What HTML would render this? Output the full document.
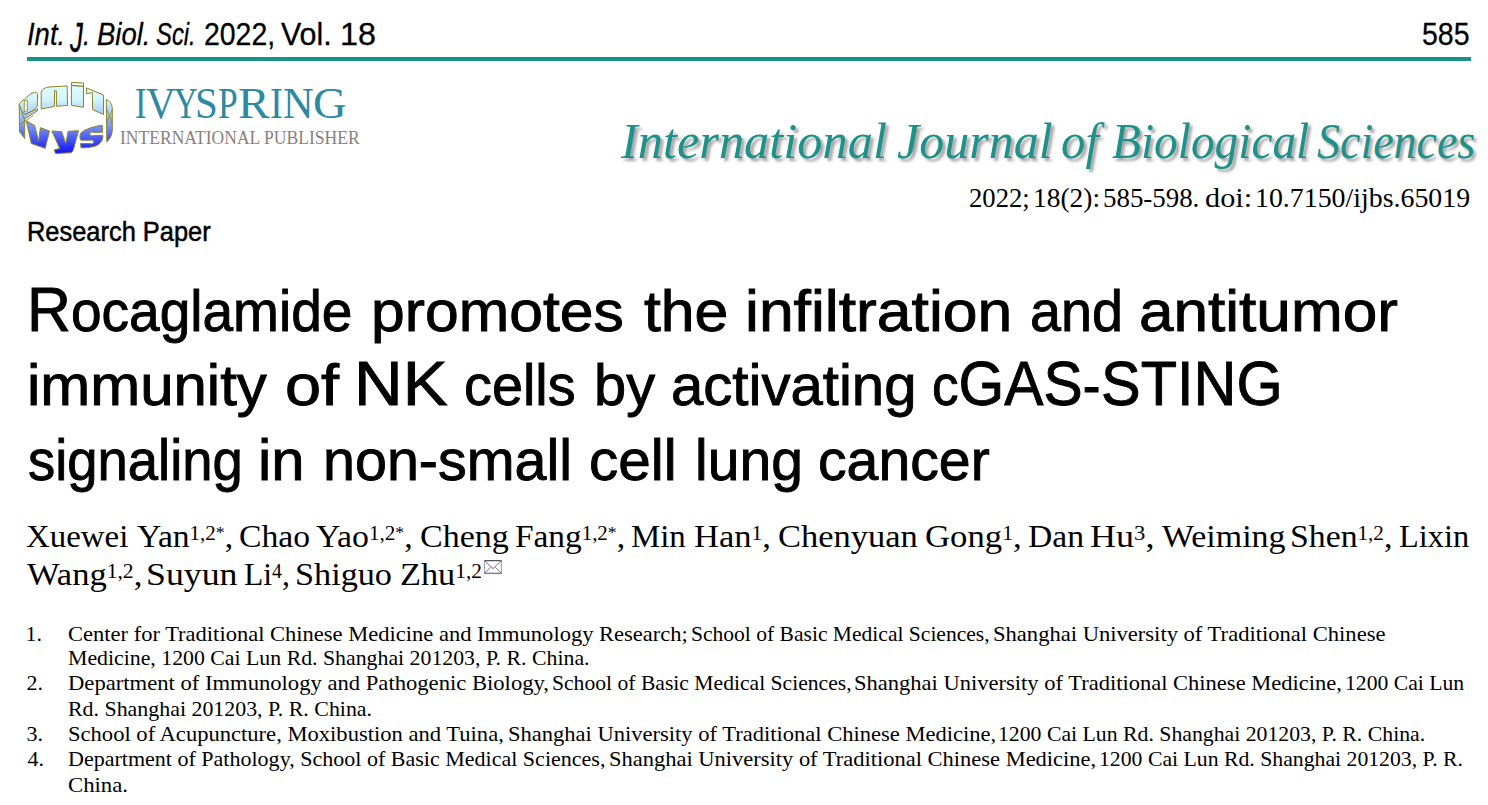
<!DOCTYPE html>
<html><head><meta charset="utf-8"><title>Int. J. Biol. Sci. 2022</title><style>html,body{margin:0;padding:0;background:#fff;width:1488px;height:805px;overflow:hidden}
.ln{position:absolute;white-space:nowrap;line-height:1;transform-origin:0 0}
sup{font-size:20px;vertical-align:7px;line-height:0}
.ti .c{font-size:63px}
.ti{-webkit-text-stroke:0.9px #000}
.rp{-webkit-text-stroke:0.5px #000}
.hd{-webkit-text-stroke:0.3px #000}
.as{font-size:17px;vertical-align:2px}
.jd{display:inline-block;transform:scaleY(1.3);transform-origin:50% 5px}

.rule{position:absolute;left:27px;top:57px;width:1444px;height:4px;background:#1a9189}
.jt{text-shadow:3px 3px 3px rgba(70,70,70,.5)}
</style></head>
<body>
<div class="rule"></div>
<svg style="position:absolute;left:0;top:0" width="130" height="170" viewBox="0 0 130 170"><defs><linearGradient id="lg" gradientUnits="userSpaceOnUse" x1="0" y1="82" x2="0" y2="154"><stop offset="0" stop-color="#e4ffff"/><stop offset="0.25" stop-color="#d2f4fb"/><stop offset="0.45" stop-color="#a8c8f6"/><stop offset="0.62" stop-color="#7890f6"/><stop offset="1" stop-color="#0c10f4"/></linearGradient></defs><g fill="url(#lg)" stroke="#8a8626" stroke-width="1" stroke-linejoin="round">
<path d="M19.4,104.2 C21,101.5 22.5,100 24.3,99.4 C28,96 31,93 34.5,92.4 C36,92 37.3,92.8 37.6,94.5 L37.3,106 C35.5,108.5 33.5,110 31.5,111.5 L24.9,114.5 L19.7,109 Z"/>
<path d="M24.3,100.6 L27.3,100.2 L27.3,111 L24.3,111.8 Z" fill="#fafbe6" stroke-width="0.8"/>
<path d="M19.7,109 L24.9,114.5 L37.6,108.8 L37.3,111 L24.9,118.7 L19.7,113.9 Z"/>
<path d="M41.2,92.1 C42,90 43.5,88.5 45.4,87.9 C48,87 51,86.7 54.5,86.7 L67.2,86 L67.5,105.4 L56.4,106.3 L56.4,90.9 L54.6,90.6 L54.3,106.5 L41.2,109 Z"/>
<path d="M71.4,82.4 L83.5,83 L83.5,107.2 L71.4,105.4 Z"/>
<path d="M71.4,85.4 L83.5,86.4" fill="none" stroke-width="1.4"/>
<path d="M86.6,87.9 L103.5,95.1 L103.5,114.5 L92.6,109.6 L92.3,92.5 L86.6,93.9 Z"/>
<path d="M106.3,99.4 C109.5,100.5 112.3,104 112.3,109 L112.3,130 C112.3,135.5 109.5,139.5 106.8,141.7 Z"/>
<path d="M106.5,109 C108,113 111,118 112.2,124 M112.2,110 C110.5,114 107.5,119 106.5,124" fill="none" stroke-width="0.8"/>
<path d="M19.2,104.5 L19.5,131.5 L24.7,138.6 L24.7,120.4 Z"/>
<path d="M19.3,125 L33.1,115.6 M24,119.5 L34.9,125.9" fill="none" stroke-width="0.9"/>
<path d="M26.5,121.7 L34.7,125.7 L38.6,141.2 L40.4,127.7 L49.5,131 L45.2,148.3 L31.3,143.5 Z"/>
<path d="M51.9,131 L61.6,131.6 L65.8,143.4 L68.2,131.3 L78.5,130.7 L73.6,149 C72.8,151.5 71.8,152.6 70.5,152.8 L55.5,153.5 L54.3,149.8 L59.7,148.6 Z"/>
<path d="M81,133 C85,129 95,126 102.3,125.3 L102.7,132.2 L94,132.4 C91.2,131.6 89.8,132.4 89.8,134 C89.8,135.6 91.2,136.2 94,135.6 L102.8,135.3 C103.5,140 100,145 94,146.5 C90,147.5 84,148 81,147.8 L80.5,143.4 L89.5,143.6 C92.6,144.3 93.8,143.4 93.8,142 C93.8,140.5 92.6,139.7 89.5,140.2 L81,140.2 C79.5,138.5 79.5,135 81,133 Z"/>
</g></svg>

<div class="ln hd" style="left:27.14px;top:18.00px;font-family:'Liberation Sans', sans-serif;font-size:32px;transform:scaleX(0.8575);"><i>Int.</i></div>
<div class="ln hd" style="left:69.70px;top:18.00px;font-family:'Liberation Sans', sans-serif;font-size:32px;transform:scaleX(0.8048);"><i><span class="jd">J</span>.</i></div>
<div class="ln hd" style="left:97.44px;top:18.00px;font-family:'Liberation Sans', sans-serif;font-size:32px;transform:scaleX(0.8596);"><i>Biol.</i></div>
<div class="ln hd" style="left:155.56px;top:18.00px;font-family:'Liberation Sans', sans-serif;font-size:32px;transform:scaleX(0.7449);"><i>Sci.</i></div>
<div class="ln hd" style="left:204.31px;top:18.00px;font-family:'Liberation Sans', sans-serif;font-size:32px;transform:scaleX(0.8883);">2022,</div>
<div class="ln hd" style="left:281.00px;top:18.00px;font-family:'Liberation Sans', sans-serif;font-size:32px;transform:scaleX(0.9510);">Vol.</div>
<div class="ln hd" style="left:339.98px;top:18.00px;font-family:'Liberation Sans', sans-serif;font-size:32px;transform:scaleX(1.0094);">18</div>
<div class="ln hd" style="left:1421.71px;top:18.00px;font-family:'Liberation Sans', sans-serif;font-size:32px;transform:scaleX(0.8902);">585</div>
<div class="ln ivy" style="left:134.64px;top:82.00px;font-family:'Liberation Serif', serif;font-size:44px;color:#2d88a4;transform:scaleX(0.7818);">I</div>
<div class="ln ivy" style="left:145.50px;top:82.00px;font-family:'Liberation Serif', serif;font-size:44px;color:#2d88a4;transform:scaleX(0.9323);">V</div>
<div class="ln ivy" style="left:173.50px;top:82.00px;font-family:'Liberation Serif', serif;font-size:44px;color:#2d88a4;transform:scaleX(0.7419);">Y</div>
<div class="ln ivy" style="left:195.21px;top:82.00px;font-family:'Liberation Serif', serif;font-size:44px;color:#2d88a4;transform:scaleX(0.9316);">S</div>
<div class="ln ivy" style="left:217.90px;top:82.00px;font-family:'Liberation Serif', serif;font-size:44px;color:#2d88a4;transform:scaleX(0.8045);">P</div>
<div class="ln ivy" style="left:238.32px;top:82.00px;font-family:'Liberation Serif', serif;font-size:44px;color:#2d88a4;transform:scaleX(1.0821);">R</div>
<div class="ln ivy" style="left:270.15px;top:82.00px;font-family:'Liberation Serif', serif;font-size:44px;color:#2d88a4;transform:scaleX(0.8727);">I</div>
<div class="ln ivy" style="left:282.84px;top:82.00px;font-family:'Liberation Serif', serif;font-size:44px;color:#2d88a4;transform:scaleX(0.9600);">N</div>
<div class="ln ivy" style="left:312.69px;top:82.00px;font-family:'Liberation Serif', serif;font-size:44px;color:#2d88a4;transform:scaleX(1.0571);">G</div>
<div class="ln intp" style="left:119.88px;top:128.00px;font-family:'Liberation Serif', serif;font-size:19px;color:#8a7f7a;transform:scaleX(0.9233);">INTERNATIONAL PUBLISHER</div>
<div class="ln jt" style="left:621.00px;top:115.80px;font-family:'Liberation Serif', serif;font-size:50px;color:#1d918a;transform:scaleX(1.0076);font-style:italic">International</div>
<div class="ln jt" style="left:897.00px;top:115.80px;font-family:'Liberation Serif', serif;font-size:50px;color:#1d918a;font-style:italic">Journal</div>
<div class="ln jt" style="left:1061.02px;top:115.80px;font-family:'Liberation Serif', serif;font-size:50px;color:#1d918a;transform:scaleX(0.9773);font-style:italic">of</div>
<div class="ln jt" style="left:1112.00px;top:115.80px;font-family:'Liberation Serif', serif;font-size:50px;color:#1d918a;transform:scaleX(0.9469);font-style:italic">Biological</div>
<div class="ln jt" style="left:1317.08px;top:115.80px;font-family:'Liberation Serif', serif;font-size:50px;color:#1d918a;transform:scaleX(0.9194);font-style:italic">Sciences</div>
<div class="ln" style="left:968.81px;top:185.20px;font-family:'Liberation Serif', serif;font-size:27px;transform:scaleX(0.9864);">2022;</div>
<div class="ln" style="left:1032.97px;top:185.20px;font-family:'Liberation Serif', serif;font-size:27px;transform:scaleX(1.0161);">18(2):</div>
<div class="ln" style="left:1103.01px;top:185.20px;font-family:'Liberation Serif', serif;font-size:27px;transform:scaleX(0.9957);">585-598.</div>
<div class="ln" style="left:1205.18px;top:185.20px;font-family:'Liberation Serif', serif;font-size:27px;transform:scaleX(1.1205);">doi:</div>
<div class="ln" style="left:1254.94px;top:185.20px;font-family:'Liberation Serif', serif;font-size:27px;transform:scaleX(1.0316);">10.7150/ijbs.65019</div>
<div class="ln rp" style="left:26.98px;top:218.00px;font-family:'Liberation Sans', sans-serif;font-size:28px;transform:scaleX(0.9080);">Research Paper</div>
<div class="ln ti" style="left:27.17px;top:277.50px;font-family:'Liberation Sans', sans-serif;font-size:57px;transform:scaleX(0.9655);"><span class="c">R</span>ocaglamide</div>
<div class="ln ti" style="left:371.21px;top:282.50px;font-family:'Liberation Sans', sans-serif;font-size:57px;transform:scaleX(1.0639);">promotes</div>
<div class="ln ti" style="left:643.80px;top:282.50px;font-family:'Liberation Sans', sans-serif;font-size:57px;transform:scaleX(1.0649);">the</div>
<div class="ln ti" style="left:744.91px;top:282.50px;font-family:'Liberation Sans', sans-serif;font-size:57px;transform:scaleX(1.0958);">infiltration</div>
<div class="ln ti" style="left:1029.54px;top:282.50px;font-family:'Liberation Sans', sans-serif;font-size:57px;transform:scaleX(0.9778);">and</div>
<div class="ln ti" style="left:1139.32px;top:282.50px;font-family:'Liberation Sans', sans-serif;font-size:57px;transform:scaleX(1.0894);">antitumor</div>
<div class="ln ti" style="left:27.05px;top:357.20px;font-family:'Liberation Sans', sans-serif;font-size:57px;transform:scaleX(1.0516);">immunity</div>
<div class="ln ti" style="left:285.22px;top:357.20px;font-family:'Liberation Sans', sans-serif;font-size:57px;transform:scaleX(1.1391);">of</div>
<div class="ln ti" style="left:353.95px;top:352.20px;font-family:'Liberation Sans', sans-serif;font-size:57px;transform:scaleX(1.0695);"><span class="c">NK</span></div>
<div class="ln ti" style="left:464.34px;top:357.20px;font-family:'Liberation Sans', sans-serif;font-size:57px;transform:scaleX(0.9782);">cells</div>
<div class="ln ti" style="left:593.66px;top:357.20px;font-family:'Liberation Sans', sans-serif;font-size:57px;transform:scaleX(1.0140);">by</div>
<div class="ln ti" style="left:671.36px;top:357.20px;font-family:'Liberation Sans', sans-serif;font-size:57px;transform:scaleX(1.0195);">activating</div>
<div class="ln ti" style="left:931.83px;top:352.20px;font-family:'Liberation Sans', sans-serif;font-size:57px;transform:scaleX(0.9330);">c<span class="c">GAS</span>-</div>
<div class="ln ti" style="left:1100.91px;top:352.20px;font-family:'Liberation Sans', sans-serif;font-size:57px;transform:scaleX(0.9435);"><span class="c">STING</span></div>
<div class="ln ti" style="left:28.45px;top:432.00px;font-family:'Liberation Sans', sans-serif;font-size:57px;transform:scaleX(0.9548);">signaling</div>
<div class="ln ti" style="left:257.96px;top:432.00px;font-family:'Liberation Sans', sans-serif;font-size:57px;transform:scaleX(1.0474);">in</div>
<div class="ln ti" style="left:322.88px;top:432.00px;font-family:'Liberation Sans', sans-serif;font-size:57px;transform:scaleX(1.0075);">non-small</div>
<div class="ln ti" style="left:589.45px;top:432.00px;font-family:'Liberation Sans', sans-serif;font-size:57px;transform:scaleX(1.0250);">cell</div>
<div class="ln ti" style="left:695.40px;top:432.00px;font-family:'Liberation Sans', sans-serif;font-size:57px;transform:scaleX(1.0010);">lung</div>
<div class="ln ti" style="left:817.89px;top:432.00px;font-family:'Liberation Sans', sans-serif;font-size:57px;transform:scaleX(1.0036);">cancer</div>
<div class="ln" style="left:26.47px;top:519.70px;font-family:'Liberation Serif', serif;font-size:32px;transform:scaleX(1.0276);">Xuewei</div>
<div class="ln" style="left:136.90px;top:519.70px;font-family:'Liberation Serif', serif;font-size:32px;transform:scaleX(1.0489);">Yan<sup>1,2<span class="as">*</span></sup>,</div>
<div class="ln" style="left:238.95px;top:519.70px;font-family:'Liberation Serif', serif;font-size:32px;transform:scaleX(1.0523);">Chao</div>
<div class="ln" style="left:315.90px;top:519.70px;font-family:'Liberation Serif', serif;font-size:32px;transform:scaleX(1.0567);">Yao<sup>1,2<span class="as">*</span></sup>,</div>
<div class="ln" style="left:419.84px;top:519.70px;font-family:'Liberation Serif', serif;font-size:32px;transform:scaleX(1.0622);">Cheng</div>
<div class="ln" style="left:515.06px;top:519.70px;font-family:'Liberation Serif', serif;font-size:32px;transform:scaleX(1.0427);">Fang<sup>1,2<span class="as">*</span></sup>,</div>
<div class="ln" style="left:631.27px;top:519.70px;font-family:'Liberation Serif', serif;font-size:32px;transform:scaleX(1.0269);">Min</div>
<div class="ln" style="left:693.82px;top:519.70px;font-family:'Liberation Serif', serif;font-size:32px;transform:scaleX(1.0794);">Han<sup>1</sup>,</div>
<div class="ln" style="left:778.42px;top:519.70px;font-family:'Liberation Serif', serif;font-size:32px;transform:scaleX(1.0773);">Chenyuan</div>
<div class="ln" style="left:925.02px;top:519.70px;font-family:'Liberation Serif', serif;font-size:32px;transform:scaleX(1.0849);">Gong<sup>1</sup>,</div>
<div class="ln" style="left:1027.55px;top:519.70px;font-family:'Liberation Serif', serif;font-size:32px;transform:scaleX(1.0519);">Dan</div>
<div class="ln" style="left:1089.67px;top:519.70px;font-family:'Liberation Serif', serif;font-size:32px;transform:scaleX(1.1278);">Hu<sup>3</sup>,</div>
<div class="ln" style="left:1161.70px;top:519.70px;font-family:'Liberation Serif', serif;font-size:32px;transform:scaleX(1.0603);">Weiming</div>
<div class="ln" style="left:1290.39px;top:519.70px;font-family:'Liberation Serif', serif;font-size:32px;transform:scaleX(1.0548);">Shen<sup>1,2</sup>,</div>
<div class="ln" style="left:1399.29px;top:519.70px;font-family:'Liberation Serif', serif;font-size:32px;transform:scaleX(1.0103);">Lixin</div>
<div class="ln" style="left:27.30px;top:558.20px;font-family:'Liberation Serif', serif;font-size:32px;transform:scaleX(1.0790);">Wang<sup>1,2</sup>,</div>
<div class="ln" style="left:145.76px;top:558.20px;font-family:'Liberation Serif', serif;font-size:32px;transform:scaleX(1.1177);">Suyun</div>
<div class="ln" style="left:244.01px;top:558.20px;font-family:'Liberation Serif', serif;font-size:32px;transform:scaleX(0.9886);">Li<sup>4</sup>,</div>
<div class="ln" style="left:295.06px;top:558.20px;font-family:'Liberation Serif', serif;font-size:32px;transform:scaleX(1.0693);">Shiguo</div>
<div class="ln" style="left:400.13px;top:558.20px;font-family:'Liberation Serif', serif;font-size:32px;transform:scaleX(1.0720);">Zhu<sup>1,2</sup></div>
<div class="ln af" style="left:68.18px;top:622.50px;font-family:'Liberation Serif', serif;font-size:22px;transform:scaleX(1.0237);">Center for Traditional Chinese Medicine and Immunology Research;</div>
<div class="ln af" style="left:691.12px;top:622.50px;font-family:'Liberation Serif', serif;font-size:22px;transform:scaleX(0.9795);">School of Basic Medical Sciences,</div>
<div class="ln af" style="left:993.07px;top:622.50px;font-family:'Liberation Serif', serif;font-size:22px;transform:scaleX(1.0260);">Shanghai University of Traditional Chinese</div>
<div class="ln af" style="left:25.50px;top:622.50px;font-family:'Liberation Serif', serif;font-size:22px;">1.</div>
<div class="ln af" style="left:67.81px;top:647.00px;font-family:'Liberation Serif', serif;font-size:22px;transform:scaleX(0.9912);">Medicine, 1200 Cai Lun Rd. Shanghai 201203, P. R. China.</div>
<div class="ln af" style="left:68.17px;top:672.00px;font-family:'Liberation Serif', serif;font-size:22px;transform:scaleX(1.0282);">Department of Immunology and Pathogenic Biology,</div>
<div class="ln af" style="left:551.92px;top:672.00px;font-family:'Liberation Serif', serif;font-size:22px;transform:scaleX(0.9828);">School of Basic Medical Sciences,</div>
<div class="ln af" style="left:854.48px;top:672.00px;font-family:'Liberation Serif', serif;font-size:22px;transform:scaleX(1.0238);">Shanghai University of Traditional Chinese Medicine,</div>
<div class="ln af" style="left:1345.33px;top:672.00px;font-family:'Liberation Serif', serif;font-size:22px;transform:scaleX(0.9840);">1200 Cai Lun</div>
<div class="ln af" style="left:26.50px;top:672.00px;font-family:'Liberation Serif', serif;font-size:22px;">2.</div>
<div class="ln af" style="left:67.80px;top:697.50px;font-family:'Liberation Serif', serif;font-size:22px;transform:scaleX(0.9950);">Rd. Shanghai 201203, P. R. China.</div>
<div class="ln af" style="left:68.17px;top:723.20px;font-family:'Liberation Serif', serif;font-size:22px;transform:scaleX(1.0261);">School of Acupuncture, Moxibustion and Tuina,</div>
<div class="ln af" style="left:507.68px;top:723.20px;font-family:'Liberation Serif', serif;font-size:22px;transform:scaleX(1.0243);">Shanghai University of Traditional Chinese Medicine,</div>
<div class="ln af" style="left:998.42px;top:723.20px;font-family:'Liberation Serif', serif;font-size:22px;transform:scaleX(0.9886);">1200 Cai Lun Rd. Shanghai 201203, P. R. China.</div>
<div class="ln af" style="left:26.50px;top:723.20px;font-family:'Liberation Serif', serif;font-size:22px;">3.</div>
<div class="ln af" style="left:68.20px;top:748.20px;font-family:'Liberation Serif', serif;font-size:22px;transform:scaleX(1.0011);">Department of Pathology, School of Basic Medical Sciences,</div>
<div class="ln af" style="left:609.28px;top:748.20px;font-family:'Liberation Serif', serif;font-size:22px;transform:scaleX(1.0222);">Shanghai University of Traditional Chinese Medicine,</div>
<div class="ln af" style="left:1099.02px;top:748.20px;font-family:'Liberation Serif', serif;font-size:22px;transform:scaleX(0.9879);">1200 Cai Lun Rd. Shanghai 201203, P. R.</div>
<div class="ln af" style="left:27.50px;top:748.20px;font-family:'Liberation Serif', serif;font-size:22px;">4.</div>
<div class="ln af" style="left:67.77px;top:773.80px;font-family:'Liberation Serif', serif;font-size:22px;transform:scaleX(1.0339);">China.</div>
<svg style="position:absolute;left:484px;top:560px" width="18" height="14" viewBox="0 0 18 14"><path d="M0 0.6 H18 M0 13.3 H18" stroke="#555" stroke-width="1.1"/><path d="M0.6 0 V14 M17.4 0 V14" stroke="#8a8aa8" stroke-width="0.9"/><path d="M0.8 0.8 L9 8.6 L17.2 0.8 M0.8 13 L6.6 7.2 M17.2 13 L11.4 7.2" fill="none" stroke="#5a5a78" stroke-width="0.85"/></svg>
</body></html>
